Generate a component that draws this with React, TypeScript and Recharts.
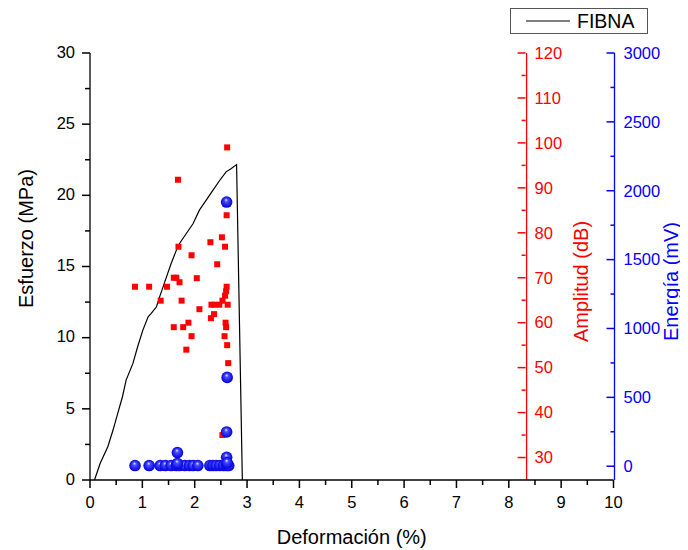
import { ComposedChart, Label, Legend, Line, ReferenceLine, Scatter, XAxis, YAxis } from "recharts";

// curva esfuerzo-deformación (FIBNA)
const strain = [0.086, 0.195, 0.34, 0.44, 0.53, 0.62, 0.69, 0.82, 0.91, 1.01, 1.11, 1.17, 1.27, 1.33, 1.44, 1.55, 1.65, 1.71, 1.84, 1.97, 2.09, 2.22, 2.35, 2.48, 2.6, 2.7, 2.8, 2.91];
const stress = [0, 1.17, 2.34, 3.51, 4.68, 5.85, 7.02, 8.19, 9.36, 10.53, 11.47, 11.7, 12.17, 12.87, 14.04, 15.21, 16.15, 16.62, 17.32, 18.02, 18.96, 19.66, 20.36, 21.06, 21.65, 21.88, 22.16, 0];

// amplitud de los eventos (dB)
const ampStrain = [2.62, 1.68, 2.61, 2.3, 2.52, 2.58, 1.69, 1.94, 2.43, 1.6, 1.65, 2.04, 1.71, 0.86, 1.13, 1.47, 2.61, 2.6, 2.58, 1.35, 1.75, 2.53, 2.32, 2.38, 2.47, 2.63, 2.09, 2.37, 2.31, 2.59, 2.6, 1.6, 1.78, 1.88, 1.94, 2.57, 1.84, 2.62, 2.64, 2.53];
const ampDb = [99, 91.8, 83.9, 77.9, 79, 76.9, 76.9, 75, 73, 70, 70, 69.9, 69, 68, 68, 68, 68, 67, 66, 64.9, 64.9, 64.9, 64, 64, 64, 64, 63, 61.9, 61, 60, 59, 59, 59, 60, 57, 57, 54, 55, 51, 35];

// energía de los eventos (mV)
const energyStrain = [0.86, 1.13, 1.34, 1.44, 1.55, 1.65, 1.71, 1.81, 1.9, 1.97, 2.06, 2.29, 2.35, 2.41, 2.48, 2.55, 2.61, 2.65, 2.61, 2.62, 2.61, 1.67, 2.61, 1.67, 2.62];
const energyMv = [5, 5, 5, 5, 5, 5, 5, 5, 5, 5, 5, 5, 5, 5, 5, 5, 5, 5, 1918, 645, 249, 99, 65, 20, 25];

const xTicks = [0, 0.5, 1, 1.5, 2, 2.5, 3, 3.5, 4, 4.5, 5, 5.5, 6, 6.5, 7, 7.5, 8, 8.5, 9, 9.5, 10];
const stressTicks = [0, 2.5, 5, 7.5, 10, 12.5, 15, 17.5, 20, 22.5, 25, 27.5, 30];
const ampTicks = [30, 35, 40, 45, 50, 55, 60, 65, 70, 75, 80, 85, 90, 95, 100, 105, 110, 115, 120];
const energyTicks = [0, 250, 500, 750, 1000, 1250, 1500, 1750, 2000, 2250, 2500, 2750, 3000];

const curve = strain.map((x, i) => ({ x, y: stress[i] }));
const amps = ampStrain.map((x, i) => ({ x, y: ampDb[i] }));
const energies = energyStrain.map((x, i) => ({ x, y: energyMv[i] }));

const FONT = "'Liberation Sans', Arial, sans-serif";
const INK = "#000";
const RED = "#ff0000";
const BLUE = "#0000ff";
const W = 680;
const H = 540;
const M = { top: 45, right: 72.5, bottom: 0, left: 0 };
const LEFT_W = 82;
const PLOT_W = W - LEFT_W - M.right - 2;
const RED_AXIS_AT = 8.34;
const RED_SHIFT = -((10 - RED_AXIS_AT) / 10) * PLOT_W;

// tickSize/tickMargin = 0: x, y llegan justo sobre la línea del eje
function LeftTick(props: any) {
  const x = Number(props.x);
  const y = Number(props.y);
  const v = props.payload.value;
  const major = v % 5 === 0;
  return (
    <g>
      <path d={`M${x},${y}H${x - (major ? 8 : 5)}`} stroke={INK} strokeWidth={1.5} fill="none" />
      {major && (
        <text x={x - 15} y={y - 1} dy="0.35em" textAnchor="end" fontSize={16.5} fontFamily={FONT} fill={INK}>
          {v}
        </text>
      )}
    </g>
  );
}

function BottomTick(props: any) {
  const x = Number(props.x);
  const y = Number(props.y);
  const v = props.payload.value;
  const major = Number.isInteger(v);
  return (
    <g>
      <path d={`M${x},${y}V${y + (major ? 8 : 5)}`} stroke={INK} strokeWidth={1.5} fill="none" />
      {major && (
        <text x={x} y={y + 22.5} dy="0.35em" textAnchor="middle" fontSize={16.5} fontFamily={FONT} fill={INK}>
          {v}
        </text>
      )}
    </g>
  );
}

function rightTick(color: string, step: number, shift: number) {
  return (props: any) => {
    const ax = Number(props.x) + shift;
    const y = Number(props.y);
    const v = props.payload.value;
    const major = v % step === 0;
    return (
      <g>
        <path d={`M${ax},${y}H${ax - (major ? 8 : 4)}`} stroke={color} strokeWidth={1.5} fill="none" />
        {major && (
          <text x={ax + 9} y={y} dy="0.35em" textAnchor="start" fontSize={16.5} fontFamily={FONT} fill={color}>
            {v}
          </text>
        )}
      </g>
    );
  };
}

function Square({ cx, cy }: any) {
  return <rect x={cx - 3} y={cy - 3} width={6} height={6} fill={RED} />;
}

function Sphere({ cx, cy }: any) {
  return (
    <g>
      <defs>
        <radialGradient id="sphere" cx="0.5" cy="0.5" r="0.5" fx="0.45" fy="0.3">
          <stop offset="0" stopColor="#e8ecff" />
          <stop offset="0.3" stopColor="#4a4cff" />
          <stop offset="1" stopColor="#0000d8" />
        </radialGradient>
      </defs>
      <circle cx={cx} cy={cy} r={5.8} fill="url(#sphere)" />
    </g>
  );
}

function LegendBox({ payload }: any) {
  const items = (payload ?? []).filter((p: any) => p.type !== "none");
  return (
    <div
      style={{
        boxSizing: "border-box",
        width: 138,
        height: 26,
        border: "1.3px solid #555",
        background: "#fff",
        display: "flex",
        alignItems: "center",
        paddingLeft: 15,
        fontFamily: FONT,
        fontSize: 19.5,
        color: INK,
      }}
    >
      {items.map((it: any) => (
        <span key={it.value} style={{ display: "flex", alignItems: "center" }}>
          <svg width={44} height={4}>
            <line x1={0} x2={44} y1={2} y2={2} stroke={INK} strokeWidth={1.2} />
          </svg>
          <span style={{ marginLeft: 7 }}>{it.value}</span>
        </span>
      ))}
    </div>
  );
}

function rotatedTitle(text: string, color: string, dx: number, dy: number) {
  return ({ viewBox }: any) => {
    const cx = viewBox.x + dx;
    const cy = viewBox.y + viewBox.height / 2 + dy;
    return (
      <text transform={`translate(${cx}, ${cy}) rotate(-90)`} dy="0.35em" textAnchor="middle" fontSize={20} fontFamily={FONT} fill={color}>
        {text}
      </text>
    );
  };
}

export default function App() {
  return (
    <div style={{ width: W, height: H, fontFamily: FONT }}>
      <ComposedChart width={W} height={H} margin={M}>
        <XAxis
          dataKey="x"
          type="number"
          domain={[0, 10]}
          ticks={xTicks}
          interval={0}
          height={68}
          tickSize={0}
          tickMargin={0}
          tick={BottomTick}
          axisLine={{ stroke: INK, strokeWidth: 1.3 }}
          tickLine={false}
        >
          <Label
            content={({ viewBox }: any) => (
              <text x={viewBox.x + viewBox.width / 2} y={viewBox.y + 57} dy="0.35em" textAnchor="middle" fontSize={20} fontFamily={FONT} fill={INK}>
                Deformación (%)
              </text>
            )}
          />
        </XAxis>
        <YAxis
          yAxisId="stress"
          type="number"
          domain={[0, 30]}
          ticks={stressTicks}
          interval={0}
          width={LEFT_W}
          tickSize={0}
          tickMargin={0}
          tick={LeftTick}
          axisLine={{ stroke: INK, strokeWidth: 1.3 }}
          tickLine={false}
        >
          <Label content={rotatedTitle("Esfuerzo (MPa)", INK, 18, -28)} />
        </YAxis>
        <YAxis
          yAxisId="energy"
          orientation="right"
          type="number"
          domain={[-100, 3000]}
          ticks={energyTicks}
          interval={0}
          width={1}
          tickSize={0}
          tickMargin={0}
          tick={rightTick(BLUE, 500, 0)}
          axisLine={{ stroke: BLUE, strokeWidth: 1.3 }}
          tickLine={false}
        >
          <Label content={rotatedTitle("Energía (mV)", BLUE, 56, 15)} />
        </YAxis>
        <YAxis
          yAxisId="amp"
          orientation="right"
          type="number"
          domain={[25, 120]}
          ticks={ampTicks}
          interval={0}
          width={1}
          tickSize={0}
          tickMargin={0}
          tick={rightTick(RED, 10, RED_SHIFT - 1)}
          axisLine={false}
          tickLine={false}
        >
          <Label content={rotatedTitle("Amplitud (dB)", RED, RED_SHIFT + 54, 15)} />
        </YAxis>
        <ReferenceLine x={RED_AXIS_AT} yAxisId="stress" stroke={RED} strokeWidth={1.3} />
        <Legend
          layout="vertical"
          align="center"
          verticalAlign="middle"
          content={LegendBox}
          wrapperStyle={{ left: 502, top: 0, width: "auto" }}
        />
        <Line
          data={curve}
          yAxisId="stress"
          dataKey="y"
          name="FIBNA"
          type="linear"
          stroke={INK}
          strokeWidth={1.2}
          dot={false}
          isAnimationActive={false}
        />
        <Scatter data={amps} yAxisId="amp" dataKey="y" name="Amplitud" legendType="none" shape={Square} isAnimationActive={false} />
        <Scatter data={energies} yAxisId="energy" dataKey="y" name="Energía" legendType="none" shape={Sphere} isAnimationActive={false} />
      </ComposedChart>
    </div>
  );
}
